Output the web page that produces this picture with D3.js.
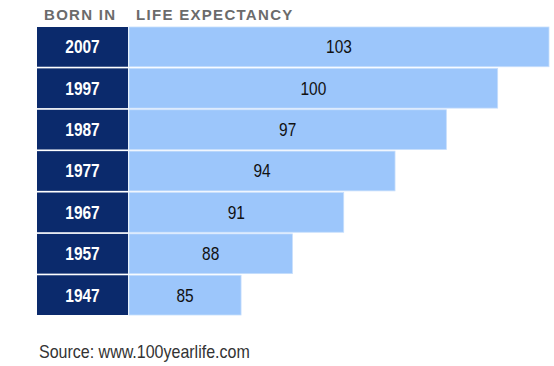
<!DOCTYPE html>
<html>
<head>
<meta charset="utf-8">
<script src="https://cdn.jsdelivr.net/npm/d3@7"></script>
<style>
body { margin: 0; background: #fff; }
svg text { font-family: "Liberation Sans", Arial, sans-serif; }
</style>
</head>
<body>
<script>
var years = ["2007", "1997", "1987", "1977", "1967", "1957", "1947"];
var lifeExpectancy = [103, 100, 97, 94, 91, 88, 85];
var headers = ["BORN IN", "LIFE EXPECTANCY"];
var source = "Source: www.100yearlife.com";

var width = 554, height = 366;
var boxLeft = 37, boxRight = 128, barLeft = 129;
var squeeze = 0.86; // the original type is condensed

var svg = d3.select("body")
    .append("svg")
    .attr("width", width)
    .attr("height", height);

// rows
var yScale = d3.scaleBand()
    .domain(years)
    .range([27, 315])
    .paddingInner(0.04);

// bar length
var xScale = d3.scaleLinear()
    .domain([78.45, 103])
    .range([barLeft, 549]);

var rows = svg.selectAll("g.row")
    .data(years)
    .enter()
    .append("g")
    .attr("class", "row");

rows.append("rect")
    .attr("x", boxLeft)
    .attr("y", (d) => yScale(d))
    .attr("width", boxRight - boxLeft)
    .attr("height", yScale.bandwidth())
    .attr("fill", "#0b2a6c");

rows.append("rect")
    .attr("x", barLeft)
    .attr("y", (d) => yScale(d))
    .attr("width", (d, i) => xScale(lifeExpectancy[i]) - barLeft)
    .attr("height", yScale.bandwidth())
    .attr("fill", "#9cc6fb")
    .attr("stroke", "#c6defc")
    .attr("stroke-width", 0.8);

rows.append("text")
    .attr("transform", (d) => "translate(" + (boxLeft + boxRight) / 2 + "," +
        (yScale(d) + yScale.bandwidth() / 2) + ") scale(" + squeeze + ",1)")
    .attr("dy", "0.36em")
    .attr("text-anchor", "middle")
    .attr("fill", "#fff")
    .attr("font-weight", "bold")
    .attr("font-size", 18)
    .text((d) => d);

rows.append("text")
    .attr("transform", (d, i) => "translate(" + (barLeft + xScale(lifeExpectancy[i])) / 2 + "," +
        (yScale(d) + yScale.bandwidth() / 2) + ") scale(" + squeeze + ",1)")
    .attr("dy", "0.36em")
    .attr("text-anchor", "middle")
    .attr("fill", "#111")
    .attr("font-size", 18)
    .text((d, i) => lifeExpectancy[i]);

// headers
svg.selectAll("text.header")
    .data(headers)
    .enter()
    .append("text")
    .attr("class", "header")
    .attr("x", (d, i) => i == 0 ? 44 : 136)
    .attr("y", 20)
    .attr("fill", "#6b6b6b")
    .attr("font-weight", "bold")
    .attr("font-size", 15)
    .attr("letter-spacing", 1.3)
    .text((d) => d);

svg.append("text")
    .attr("transform", "translate(39,358) scale(0.89,1)")
    .attr("fill", "#333")
    .attr("font-size", 18)
    .text(source);
</script>
</body>
</html>
